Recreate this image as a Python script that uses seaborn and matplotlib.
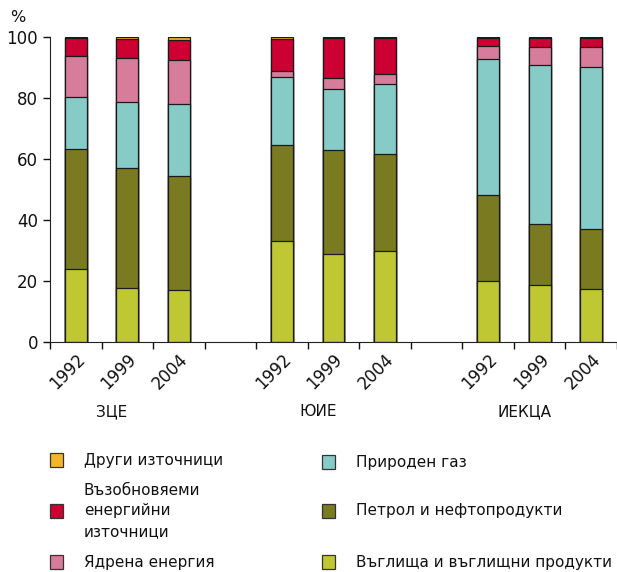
import numpy as np
import pandas as pd
import seaborn as sns
import matplotlib.pyplot as plt
from matplotlib.patches import Rectangle
from matplotlib import transforms

# Данни (%)
groups = ['ЗЦЕ', 'ЮИЕ', 'ИЕКЦА']
years = ['1992', '1999', '2004']
coal = [23.8, 17.5, 17.1, 33.0, 28.7, 29.7, 19.8, 18.7, 17.3]
oil = [39.5, 39.5, 37.3, 31.7, 34.3, 32.1, 28.5, 19.9, 19.6]
gas = [17.1, 21.8, 23.6, 22.2, 20.1, 22.8, 44.6, 52.2, 53.5]
nuclear = [13.6, 14.4, 14.4, 1.9, 3.4, 3.4, 4.1, 5.9, 6.3]
renew = [5.7, 6.1, 6.7, 10.5, 13.3, 11.7, 2.8, 3.1, 3.1]
other = [0.3, 0.7, 0.9, 0.7, 0.2, 0.3, 0.2, 0.2, 0.2]

layer_names = ['Въглища и въглищни продукти', 'Петрол и нефтопродукти', 'Природен газ',
               'Ядрена енергия', 'Възобновяеми\nенергийни\nизточници', 'Други източници']
layer_vals = [coal, oil, gas, nuclear, renew, other]
colors = ['#bfc832', '#7a7b20', '#86cbc6', '#d87c9c', '#cc0033', '#f5b52a']

slots = [g + ' ' + y for g in groups for y in years]
order = slots[0:3] + ['gap1'] + slots[3:6] + ['gap2'] + slots[6:9]

df = pd.DataFrame({'slot': slots})
cum = np.zeros(len(slots))
for name, vals in zip(layer_names, layer_vals):
    cum = cum + np.array(vals)
    df[name] = cum

sns.set_style('ticks')
plt.rcParams['font.family'] = ['DejaVu Sans']
plt.rcParams['text.color'] = '#111111'
plt.rcParams['xtick.color'] = '#111111'
plt.rcParams['ytick.color'] = '#111111'

fig = plt.figure(figsize=(6.17, 5.72), dpi=100)
ax = fig.add_axes([0.081, 0.4026, 0.919, 0.5322])

# stacked bars: draw cumulative totals from top to bottom
for name, c in reversed(list(zip(layer_names, colors))):
    sns.barplot(data=df, x='slot', y=name, order=order, color=c, saturation=1,
                width=0.42, edgecolor='#1a1a1a', linewidth=0.9, errorbar=None, ax=ax)

ax.set_xlim(-0.5, 10.5)
ax.set_ylim(0, 100)
ax.set_yticks([0, 20, 40, 60, 80, 100])
ax.tick_params(axis='y', labelsize=12, length=5, width=1)
ax.set_xticks(range(len(order)))
ax.set_xticklabels([s.split(' ')[1] if ' ' in s else '' for s in order],
                   rotation=45, ha='right', rotation_mode='anchor', fontsize=12)
ax.tick_params(axis='x', length=0, pad=6)
ax.set_xticks(np.arange(-0.5, 11, 1), minor=True)
ax.tick_params(axis='x', which='minor', length=5, width=1)
ax.set_xlabel('')
ax.set_ylabel('')
sns.despine(ax=ax)
for s in ['left', 'bottom']:
    ax.spines[s].set_color('#222222')

fig.text(18 / 617, 1 - 18 / 572, '%', fontsize=11.5, ha='center', va='center')

trans = transforms.blended_transform_factory(ax.transData, fig.transFigure)
for i, g in enumerate(groups):
    ax.text(4 * i + 0.7, 1 - 412 / 572, g, transform=trans, ha='center', va='center', fontsize=11)

# легенда
legend_items = [
    (layer_names[5], colors[5], 50, 460),
    (layer_names[4], colors[4], 50, 511),
    (layer_names[3], colors[3], 50, 562),
    (layer_names[2], colors[2], 322, 462),
    (layer_names[1], colors[1], 322, 511),
    (layer_names[0], colors[0], 322, 562),
]
for label, c, px, py in legend_items:
    fig.add_artist(Rectangle((px / 617, 1 - (py + 7) / 572), 13 / 617, 14 / 572,
                             transform=fig.transFigure, facecolor=c,
                             edgecolor='#333333', linewidth=0.9))
    fig.text((px + 34) / 617, 1 - py / 572, label, fontsize=11, va='center', ha='left',
             linespacing=1.45)

fig.savefig('out.png', dpi=100)
